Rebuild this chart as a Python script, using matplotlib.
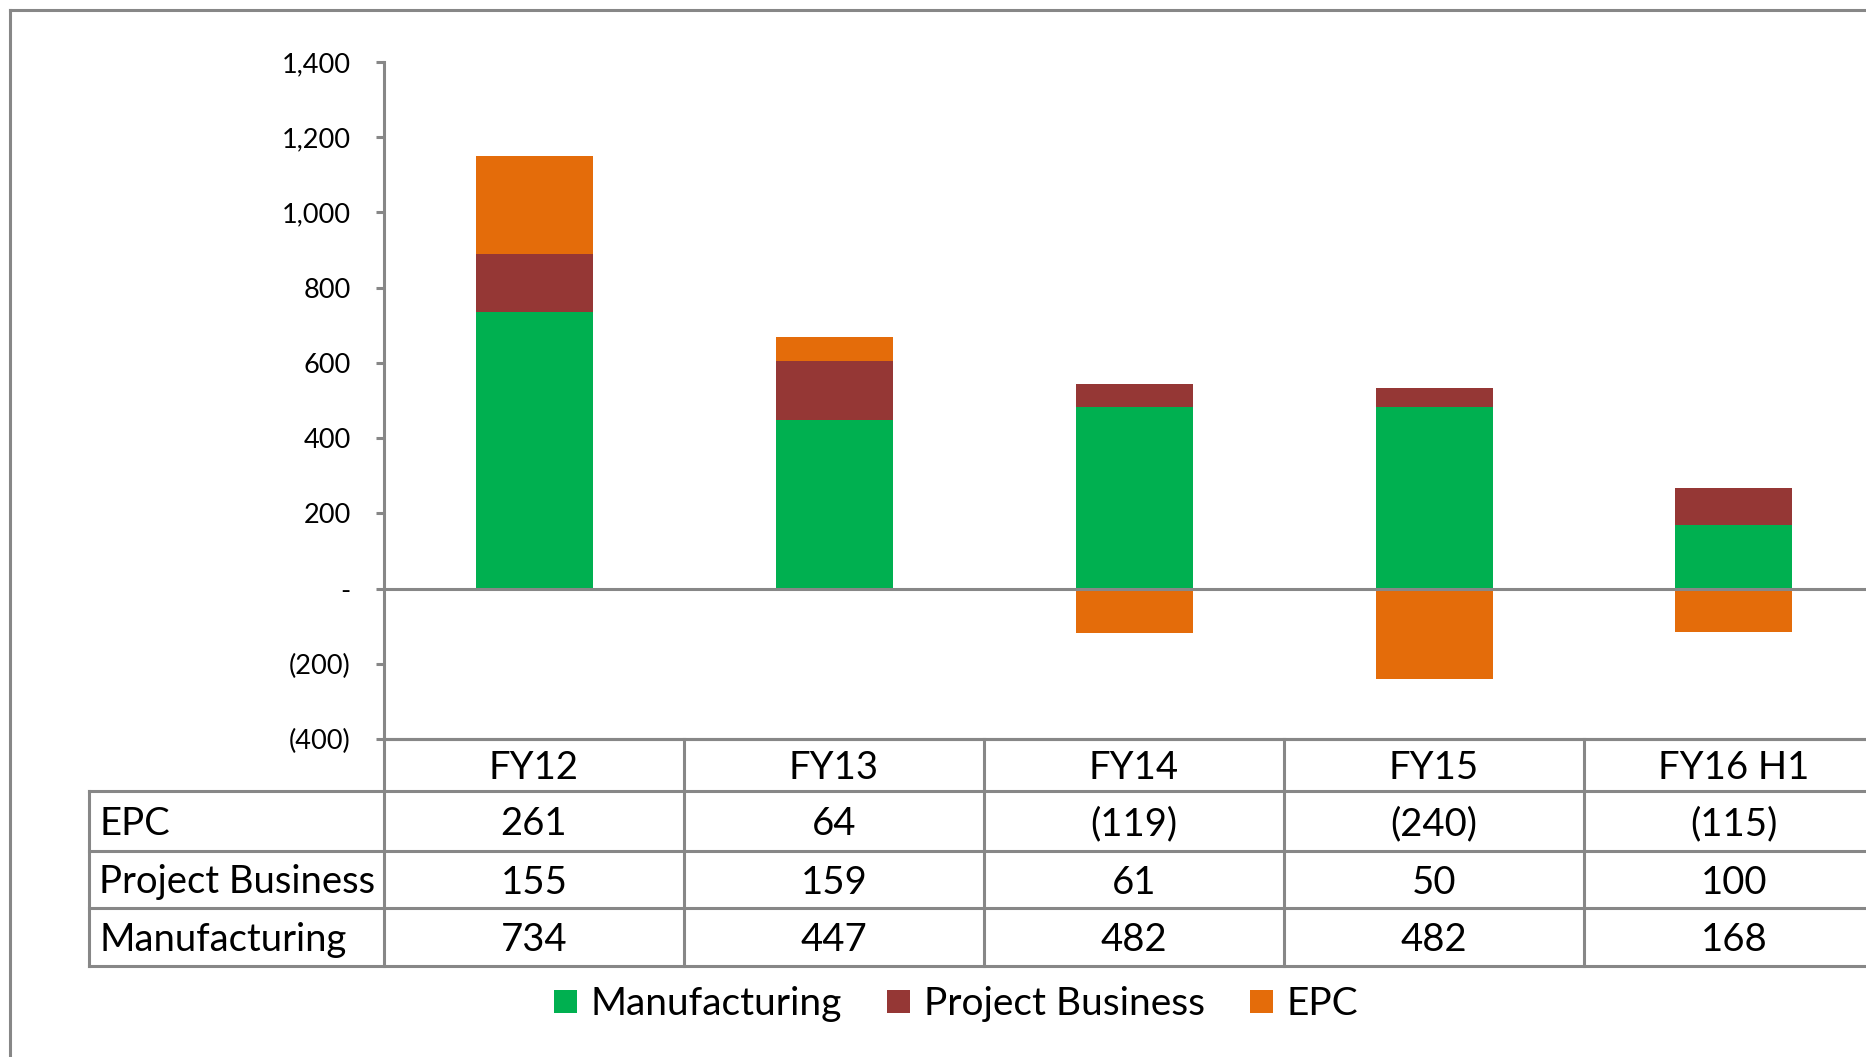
import matplotlib
matplotlib.use("Agg")
import matplotlib.pyplot as plt
from matplotlib.lines import Line2D
from matplotlib.patches import Patch
from matplotlib.ticker import FuncFormatter, MultipleLocator

plt.rcParams["font.family"] = ["Lato", "DejaVu Sans"]

# ---- data ----
periods = ["FY12", "FY13", "FY14", "FY15", "FY16 H1"]
manufacturing = [734, 447, 482, 482, 168]
project_business = [155, 159, 61, 50, 100]
epc = [261, 64, -119, -240, -115]

table_rows = ["EPC", "Project Business", "Manufacturing"]

GREEN = "#00B050"
MAROON = "#953735"
ORANGE = "#E46C0A"
GRID = "#878787"

# ---- layout (full-size pixels) ----
W, H = 1866, 1057
SLOT = 300.0
CH_LEFT, CH_TOP, CH_BOTTOM = 384, 62, 739
TB_LEFT = 89
ROW_EDGES = [739, 791, 851, 908, 966]
LW = 2.2
TEXT_SHIFT = 3  # text sits a touch below cell centre


def fx(px):
    return px / W


def fy(py):
    return 1 - py / H


def fmt_value(v):
    v = int(round(v))
    if v == 0:
        return "-"
    if v < 0:
        return f"({abs(v):,})"
    return f"{v:,}"


fig = plt.figure(figsize=(W / 100, H / 100), dpi=100)

# outer frame
fig.add_artist(Line2D([fx(10), fx(10)], [fy(10), 0], color=GRID, lw=LW))
fig.add_artist(Line2D([fx(10), 1], [fy(10), fy(10)], color=GRID, lw=LW))

n = len(periods)
ch_right = CH_LEFT + SLOT * n
ax = fig.add_axes([fx(CH_LEFT), fy(CH_BOTTOM), fx(ch_right) - fx(CH_LEFT), fy(CH_TOP) - fy(CH_BOTTOM)])
x = list(range(n))
width = 0.39

pos_epc = [max(v, 0) for v in epc]
neg_epc = [min(v, 0) for v in epc]
pb_bottom = manufacturing
epc_bottom = [m + p for m, p in zip(manufacturing, project_business)]

ax.bar(x, manufacturing, width, color=GREEN, zorder=2)
ax.bar(x, project_business, width, bottom=pb_bottom, color=MAROON, zorder=2)
ax.bar(x, pos_epc, width, bottom=epc_bottom, color=ORANGE, zorder=2)
ax.bar(x, neg_epc, width, color=ORANGE, zorder=2)

ax.set_xlim(-0.5, n - 0.5)
ax.set_ylim(-400, 1400)
ax.yaxis.set_major_locator(MultipleLocator(200))
ax.yaxis.set_major_formatter(FuncFormatter(lambda v, _: fmt_value(v)))
ax.set_xticks([])
ax.axhline(0, color=GRID, lw=LW, zorder=3)

for side in ("top", "right"):
    ax.spines[side].set_visible(False)
for side in ("left", "bottom"):
    ax.spines[side].set_color(GRID)
    ax.spines[side].set_linewidth(LW)
ax.tick_params(axis="y", direction="out", length=6, width=LW, color=GRID,
               labelsize=19.5, pad=18)
ax.patch.set_alpha(0)

# ---- data table ----
tb = fig.add_axes([fx(TB_LEFT), fy(ROW_EDGES[-1]), fx(ch_right) - fx(TB_LEFT),
                   fy(ROW_EDGES[0]) - fy(ROW_EDGES[-1])])
tb_left = -0.5 - (CH_LEFT - TB_LEFT) / SLOT
tb.set_xlim(tb_left, n - 0.5)
tb.set_ylim(ROW_EDGES[-1], ROW_EDGES[0])
tb.axis("off")

# horizontal lines
tb.plot([-0.5, n - 0.5], [ROW_EDGES[0]] * 2, color=GRID, lw=LW, clip_on=False)
for yy in ROW_EDGES[1:]:
    tb.plot([tb_left, n - 0.5], [yy, yy], color=GRID, lw=LW, clip_on=False)
# vertical lines
tb.plot([tb_left, tb_left], [ROW_EDGES[1], ROW_EDGES[-1]], color=GRID, lw=LW, clip_on=False)
for i in range(n):
    tb.plot([i - 0.5, i - 0.5], [ROW_EDGES[0], ROW_EDGES[-1]], color=GRID, lw=LW, clip_on=False)

TFS = 27.5
for i, p in enumerate(periods):
    tb.text(i, (ROW_EDGES[0] + ROW_EDGES[1]) / 2 + TEXT_SHIFT, p, ha="center", va="center", fontsize=TFS)

row_values = [epc, project_business, manufacturing]
for r, (name, vals) in enumerate(zip(table_rows, row_values)):
    yc = (ROW_EDGES[r + 1] + ROW_EDGES[r + 2]) / 2 + TEXT_SHIFT
    tb.text(tb_left + 10 / SLOT, yc, name, ha="left", va="center", fontsize=TFS)
    for i, v in enumerate(vals):
        tb.text(i, yc, fmt_value(v), ha="center", va="center", fontsize=TFS)

# ---- legend ----
handles = [
    Patch(facecolor=GREEN, label="Manufacturing"),
    Patch(facecolor=MAROON, label="Project Business"),
    Patch(facecolor=ORANGE, label="EPC"),
]
fig.legend(handles=handles, loc="center", bbox_to_anchor=(fx(956), fy(1004)), ncol=3,
           frameon=False, fontsize=28, handlelength=0.6, handleheight=0.55,
           handletextpad=0.35, columnspacing=1.15)

fig.savefig("out.png", dpi=100)
